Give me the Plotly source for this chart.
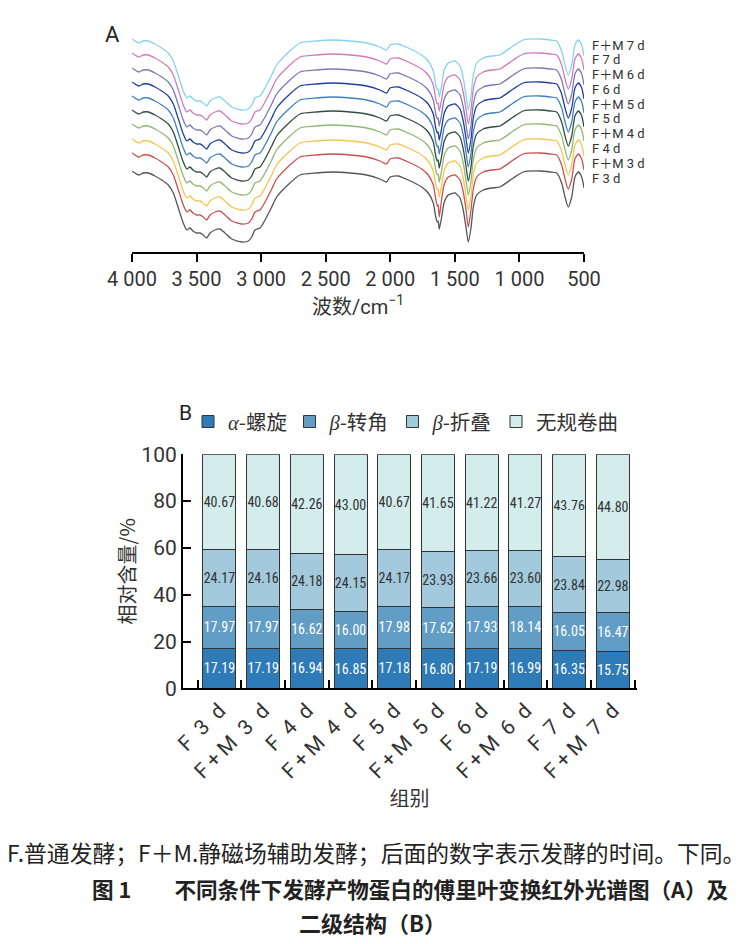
import plotly.graph_objects as go

W, H = 752, 944

# ---------------- Panel A: FTIR spectra (arbitrary transmittance units, stacked) ----------------
wavenumber = [4000, 3964, 3946, 3912, 3874, 3822, 3770, 3719, 3680, 3641,
              3603, 3576, 3551, 3528, 3499, 3473, 3448, 3422, 3396, 3357,
              3319, 3280, 3228, 3151, 3099, 3073, 3048, 3009, 2970, 2918,
              2880, 2777, 2699, 2570, 2444, 2312, 2183, 2080, 2028, 2002,
              1940, 1861, 1757, 1706, 1667, 1648, 1636, 1629, 1621, 1602,
              1582, 1551, 1499, 1460, 1435, 1414, 1396, 1375, 1357, 1331,
              1280, 1215, 1151, 1048, 970, 841, 763, 712, 673, 647,
              622, 595, 570, 544, 518, 500]

F_3d = [79, 76, 75, 77, 77, 74, 70, 65, 57, 42,
        27, 20, 22, 19, 17, 17, 15, 12, 17, 20,
        21, 17, 11, 8, 9, 13, 20, 22, 30, 43,
        53, 67, 75, 77, 78, 77, 75, 71, 68, 73,
        74, 70, 63, 57, 47, 33, 28, 29, 21, 33,
        48, 55, 57, 52, 40, 23, 8, 22, 43, 55,
        60, 62, 63, 72, 78, 79, 78, 77, 67, 53,
        43, 53, 73, 78, 73, 62]
FM_3d = [97, 94, 93, 95, 95, 92, 88, 83, 75, 60,
         45, 38, 40, 37, 35, 35, 33, 30, 35, 38,
         39, 35, 29, 26, 27, 31, 38, 40, 48, 61,
         71, 85, 93, 95, 96, 95, 93, 89, 86, 91,
         92, 88, 81, 75, 65, 51, 44, 45, 33, 51,
         66, 73, 75, 70, 58, 41, 23, 40, 61, 73,
         78, 80, 81, 90, 96, 97, 96, 95, 85, 71,
         61, 71, 91, 96, 91, 80]
F_4d = [111, 108, 107, 109, 109, 106, 102, 97, 89, 74,
        59, 52, 54, 51, 49, 49, 47, 44, 49, 52,
        53, 49, 43, 40, 41, 45, 52, 54, 62, 75,
        85, 99, 107, 109, 110, 109, 107, 103, 100, 105,
        106, 102, 95, 89, 79, 65, 60, 61, 53, 65,
        80, 87, 89, 84, 72, 55, 40, 54, 75, 87,
        92, 94, 95, 104, 110, 111, 110, 109, 99, 85,
        75, 85, 105, 110, 105, 94]
FM_4d = [126, 123, 122, 124, 124, 121, 117, 112, 104, 89,
         74, 67, 69, 66, 64, 64, 62, 59, 64, 67,
         68, 64, 58, 55, 56, 60, 67, 69, 77, 90,
         100, 114, 122, 124, 125, 124, 122, 118, 115, 120,
         121, 117, 110, 104, 94, 80, 75, 76, 68, 80,
         95, 102, 104, 99, 87, 70, 55, 69, 90, 102,
         107, 109, 110, 119, 125, 126, 125, 124, 114, 100,
         90, 100, 120, 125, 120, 109]
F_5d = [140, 137, 136, 138, 138, 135, 131, 126, 118, 103,
        88, 81, 83, 80, 78, 78, 76, 73, 78, 81,
        82, 78, 72, 69, 70, 74, 81, 83, 91, 104,
        114, 128, 136, 138, 139, 138, 136, 132, 129, 134,
        135, 131, 124, 118, 108, 94, 89, 90, 82, 94,
        109, 116, 118, 113, 101, 84, 69, 83, 104, 116,
        121, 123, 124, 133, 139, 140, 139, 138, 128, 114,
        104, 114, 134, 139, 134, 123]
FM_5d = [154, 151, 150, 152, 152, 149, 145, 140, 132, 117,
         102, 95, 97, 94, 92, 92, 90, 87, 92, 95,
         96, 92, 86, 83, 84, 88, 95, 97, 105, 118,
         128, 142, 150, 152, 153, 152, 150, 146, 143, 148,
         149, 145, 138, 132, 122, 108, 103, 104, 96, 108,
         123, 130, 132, 127, 115, 98, 83, 97, 118, 130,
         135, 137, 138, 147, 153, 154, 153, 152, 142, 128,
         118, 128, 148, 153, 148, 137]
F_6d = [168, 165, 164, 166, 166, 163, 159, 154, 146, 131,
        116, 109, 111, 108, 106, 106, 104, 101, 106, 109,
        110, 106, 100, 97, 98, 102, 109, 111, 119, 132,
        142, 156, 164, 166, 167, 166, 164, 160, 157, 162,
        163, 159, 152, 146, 136, 122, 117, 118, 110, 122,
        137, 144, 146, 141, 129, 112, 97, 111, 132, 144,
        149, 151, 152, 161, 167, 168, 167, 166, 156, 142,
        132, 142, 162, 167, 162, 151]
FM_6d = [182, 179, 178, 180, 180, 177, 173, 168, 160, 145,
         130, 123, 125, 122, 120, 120, 118, 115, 120, 123,
         124, 120, 114, 111, 112, 116, 123, 125, 133, 146,
         156, 170, 178, 180, 181, 180, 178, 174, 171, 176,
         177, 173, 166, 160, 150, 136, 131, 132, 124, 136,
         151, 158, 160, 155, 143, 126, 111, 125, 146, 158,
         163, 165, 166, 175, 181, 182, 181, 180, 170, 156,
         146, 156, 176, 181, 176, 165]
F_7d = [197, 194, 193, 195, 195, 192, 188, 183, 175, 160,
        145, 138, 140, 137, 135, 135, 133, 130, 135, 138,
        139, 135, 129, 126, 127, 131, 138, 140, 148, 161,
        171, 185, 193, 195, 196, 195, 193, 189, 186, 191,
        192, 188, 181, 175, 165, 151, 146, 147, 139, 151,
        166, 173, 175, 170, 158, 141, 126, 140, 161, 173,
        178, 180, 181, 190, 196, 197, 196, 195, 185, 171,
        161, 171, 191, 196, 191, 180]
FM_7d = [211, 208, 207, 209, 209, 206, 202, 197, 189, 174,
         159, 152, 154, 151, 149, 149, 147, 144, 149, 152,
         153, 149, 143, 140, 141, 145, 152, 154, 162, 175,
         185, 199, 207, 209, 210, 209, 207, 203, 200, 205,
         206, 202, 195, 189, 179, 165, 160, 161, 153, 165,
         180, 187, 189, 184, 172, 155, 140, 154, 175, 187,
         192, 194, 195, 204, 210, 211, 210, 209, 199, 185,
         175, 185, 205, 210, 205, 194]

spectra_names = ["F 3 d", "F＋M 3 d", "F 4 d", "F＋M 4 d", "F 5 d",
                 "F＋M 5 d", "F 6 d", "F＋M 6 d", "F 7 d", "F＋M 7 d"]
spectra_values = [F_3d, FM_3d, F_4d, FM_4d, F_5d, FM_5d, F_6d, FM_6d, F_7d, FM_7d]
spectra_colors = ["#555555", "#c9504f", "#f6c451", "#8fb871", "#2f4f3d",
                  "#3f7fbf", "#1f3f9c", "#7c78b8", "#d17bbe", "#86d3ea"]

wn_ticks = [4000, 3500, 3000, 2500, 2000, 1500, 1000, 500]
wn_ticktext = ["4 000", "3 500", "3 000", "2 500", "2 000", "1 500", "1 000", "500"]

# ---------------- Panel B: secondary structure ----------------
groups = ["F 3 d", "F+M 3 d", "F 4 d", "F+M 4 d", "F 5 d",
          "F+M 5 d", "F 6 d", "F+M 6 d", "F 7 d", "F+M 7 d"]
alpha_helix = [17.19, 17.19, 16.94, 16.85, 17.18, 16.80, 17.19, 16.99, 16.35, 15.75]
beta_turn = [17.97, 17.97, 16.62, 16.00, 17.98, 17.62, 17.93, 18.14, 16.05, 16.47]
beta_sheet = [24.17, 24.16, 24.18, 24.15, 24.17, 23.93, 23.66, 23.60, 23.84, 22.98]
random_coil = [40.67, 40.68, 42.26, 43.00, 40.67, 41.65, 41.22, 41.27, 43.76, 44.80]

struct_names = ['<span style="font-family:Liberation Serif"><i>α</i></span>-螺旋',
                '<span style="font-family:Liberation Serif"><i>β</i></span>-转角',
                '<span style="font-family:Liberation Serif"><i>β</i></span>-折叠',
                '无规卷曲']
struct_values = [alpha_helix, beta_turn, beta_sheet, random_coil]
struct_colors = ["#2f7bb7", "#619dc5", "#a2c9dc", "#d3ecec"]
struct_textcolors = ["white", "white", "#333333", "#333333"]
legend_ids = ["legend", "legend2", "legend3", "legend4"]
legend_left_px = [188, 289.5, 392.5, 496]


def px_x(p):
    return p / W


def px_y(p):
    return 1 - p / H


BASE_FONT = "Roboto, Noto Sans CJK SC, sans-serif"
CJK_FONT = "Noto Sans CJK SC, sans-serif"
NARROW_FONT = "Liberation Sans Narrow, Roboto Condensed, DejaVu Sans Condensed, Roboto, sans-serif"

# display form of the group tick labels (wider letter spacing as in the figure)
group_ticktext = [g.replace(" ", "\u2002").replace("+", "\u2009+\u2009") for g in groups]

fig = go.Figure()

for name, vals, col in zip(spectra_names, spectra_values, spectra_colors):
    fig.add_trace(go.Scatter(
        x=wavenumber, y=vals, mode="lines", name=name,
        line=dict(color=col, width=1.3, shape="spline", smoothing=0.6),
        xaxis="x", yaxis="y", showlegend=False, hoverinfo="skip"))

for name, vals, col, tcol, lg in zip(struct_names, struct_values, struct_colors,
                                     struct_textcolors, legend_ids):
    fig.add_trace(go.Bar(
        x=groups, y=vals, name=name, legend=lg,
        marker=dict(color=col, line=dict(color="#333333", width=1)),
        text=[f"{v:.2f}" for v in vals], textposition="inside",
        insidetextanchor="middle", textangle=0, constraintext="none",
        textfont=dict(family=NARROW_FONT, size=14, color=tcol),
        xaxis="x2", yaxis="y2"))

annotations = []
# labels of spectra (right side)
label_y = [178.3, 163.6, 148.4, 133.8, 118.8, 104.4, 89.3, 74.3, 59.5, 45.0]
for name, yy in zip(spectra_names, label_y):
    annotations.append(dict(text=name, x=px_x(590), y=px_y(yy), xref="paper", yref="paper",
                            xanchor="left", yanchor="middle", showarrow=False,
                            font=dict(family=BASE_FONT, size=13, color="#333333")))
annotations.append(dict(text="A", x=px_x(103), y=px_y(35), xref="paper", yref="paper",
                        xanchor="left", yanchor="middle", showarrow=False,
                        font=dict(family=BASE_FONT, size=22, color="#222222")))
annotations.append(dict(text="B", x=px_x(177), y=px_y(413), xref="paper", yref="paper",
                        xanchor="left", yanchor="middle", showarrow=False,
                        font=dict(family=BASE_FONT, size=21, color="#222222")))
# caption
annotations.append(dict(text="F.普通发酵；F＋M.静磁场辅助发酵；后面的数字表示发酵的时间。下同。",
                        x=px_x(376), y=px_y(852), xref="paper", yref="paper",
                        xanchor="center", yanchor="middle", showarrow=False,
                        font=dict(family=CJK_FONT, size=22.8, color="#222222")))
annotations.append(dict(text="<b>图 1　　不同条件下发酵产物蛋白的傅里叶变换红外光谱图（A）及</b>",
                        x=px_x(410.5), y=px_y(888), xref="paper", yref="paper",
                        xanchor="center", yanchor="middle", showarrow=False,
                        font=dict(family=CJK_FONT, size=21.6, color="#222222")))
annotations.append(dict(text="<b>二级结构（B）</b>",
                        x=px_x(372), y=px_y(922), xref="paper", yref="paper",
                        xanchor="center", yanchor="middle", showarrow=False,
                        font=dict(family=CJK_FONT, size=22, color="#222222")))

legend_layouts = {}
for lg, left in zip(legend_ids, legend_left_px):
    legend_layouts[lg] = dict(orientation="h", x=px_x(left), y=px_y(421.7),
                              xanchor="left", yanchor="middle",
                              font=dict(family=CJK_FONT, size=20.5, color="#333333"),
                              bgcolor="rgba(0,0,0,0)", itemclick=False, itemdoubleclick=False)

fig.update_layout(
    width=W, height=H,
    margin=dict(l=0, r=0, t=0, b=0, autoexpand=False),
    paper_bgcolor="white", plot_bgcolor="white",
    font=dict(family=BASE_FONT, color="#333333"),
    barmode="stack", bargap=0.245,
    xaxis=dict(domain=[px_x(132), px_x(584)], range=[4000, 500], anchor="y",
               automargin=False,
               tickvals=wn_ticks, ticktext=wn_ticktext,
               showline=True, linecolor="black", linewidth=1.5,
               ticks="outside", ticklen=8, tickwidth=1.5, tickcolor="black",
               tickfont=dict(size=20, color="#333333"),
               showgrid=False, zeroline=False,
               title=dict(text="波数/cm<sup>−1</sup>", standoff=10,
                          font=dict(family=BASE_FONT, size=20, color="#333333"))),
    yaxis=dict(domain=[px_y(252), px_y(32)], range=[-2, 218], anchor="x",
               automargin=False,
               visible=False, showgrid=False, zeroline=False),
    xaxis2=dict(domain=[px_x(182.7), px_x(636.5)], range=[-0.84, 9.54], anchor="y2",
                automargin=False,
                type="category", tickson="boundaries",
                tickmode="array", tickvals=groups, ticktext=group_ticktext,
                showline=True, linecolor="black", linewidth=1.5,
                ticks="inside", ticklen=9, tickwidth=1.5, tickcolor="black",
                tickangle=-45, tickfont=dict(size=21, color="#333333"),
                showgrid=False, zeroline=False,
                title=dict(text="组别", standoff=5,
                           font=dict(family=CJK_FONT, size=20, color="#333333"))),
    yaxis2=dict(domain=[px_y(688.3), px_y(454.3)], range=[0, 100], anchor="x2",
                automargin=False,
                tickvals=[0, 20, 40, 60, 80, 100],
                showline=True, linecolor="black", linewidth=1.5,
                ticks="inside", ticklen=9, tickwidth=1.5, tickcolor="black",
                tickfont=dict(size=21, color="#333333"),
                showgrid=False, zeroline=False,
                title=dict(text="相对含量/%", standoff=0,
                           font=dict(family=CJK_FONT, size=20, color="#333333"))),
    annotations=annotations,
    **legend_layouts,
)

fig.write_html("out.html")
